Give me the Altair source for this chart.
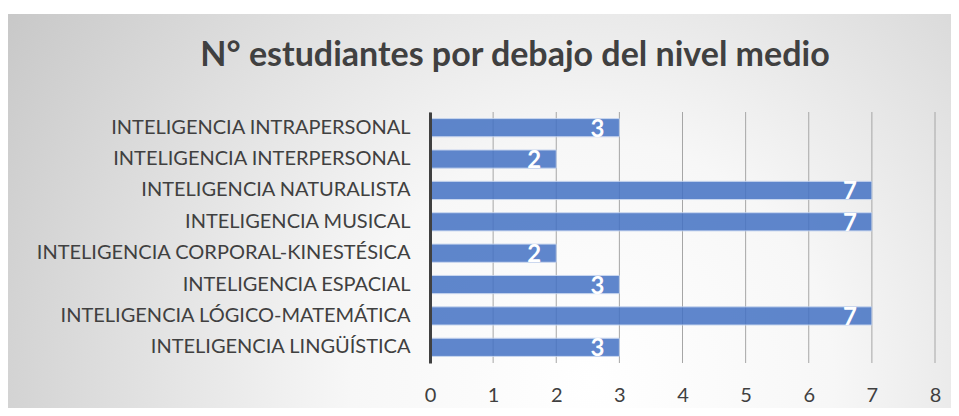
import altair as alt
import pandas as pd

categories = [
    "INTELIGENCIA INTRAPERSONAL",
    "INTELIGENCIA INTERPERSONAL",
    "INTELIGENCIA NATURALISTA",
    "INTELIGENCIA MUSICAL",
    "INTELIGENCIA CORPORAL-KINESTÉSICA",
    "INTELIGENCIA ESPACIAL",
    "INTELIGENCIA LÓGICO-MATEMÁTICA",
    "INTELIGENCIA LINGÜÍSTICA",
]
values = [3, 2, 7, 7, 2, 3, 7, 3]
x_ticks = [0, 1, 2, 3, 4, 5, 6, 7, 8]
title_text = "N° estudiantes por debajo del nivel medio"

df = pd.DataFrame({"cat": categories, "val": values})
ticks_df = pd.DataFrame({"t": x_ticks})

W, H = 505, 251
PL, PT, PR, PB = 422, 104, 16, 45
FONT = "Lato"

x_scale = alt.Scale(domain=[0, 8], nice=False)

bg = alt.Chart(pd.DataFrame({"a": [0]})).mark_rect(
    color={
        "gradient": "radial",
        "x1": 0.62, "y1": 0.68, "r1": 0,
        "x2": 0.62, "y2": 0.68, "r2": 0.85,
        "stops": [
            {"offset": 0, "color": "#ffffff"},
            {"offset": 0.3, "color": "#f7f7f7"},
            {"offset": 1, "color": "#bcbcbc"},
        ],
    }
).encode(
    x=alt.value(-PL - 3), x2=alt.value(W + PR),
    y=alt.value(-PT + 6), y2=alt.value(H + PB),
)

grid = alt.Chart(ticks_df).mark_rule(color="#a6a6a6", strokeWidth=1).encode(
    x=alt.X("t:Q", scale=x_scale),
    y=alt.value(0), y2=alt.value(H),
)

y_enc = alt.Y(
    "cat:N", sort=categories, title=None,
    scale=alt.Scale(paddingInner=0.42, paddingOuter=0.21),
    axis=alt.Axis(
        labelFont=FONT, labelFontSize=20, labelColor="#404040",
        labelPadding=20, ticks=False, domain=True,
        domainColor="#404040", domainWidth=3, labelLimit=0, zindex=2,
    ),
)
x_enc = alt.X(
    "val:Q", title=None, scale=x_scale,
    axis=alt.Axis(
        values=x_ticks, format="d", labelFont=FONT, labelFontSize=20,
        labelColor="#404040", labelPadding=22, ticks=False, domain=False,
        grid=False, zindex=2, labelFlush=False,
    ),
)

bars = alt.Chart(df).mark_bar(
    color="#4472C4", opacity=0.85, stroke="#c2d2ee", strokeWidth=1
).encode(x=x_enc, y=y_enc)

labels = alt.Chart(df).mark_text(
    align="right", baseline="middle", dx=-15, dy=2,
    font=FONT, fontSize=24, fontWeight="bold", color="white",
).encode(x=alt.X("val:Q"), y=alt.Y("cat:N", sort=categories), text="val:Q")

title = alt.Chart(pd.DataFrame({"t": [title_text]})).mark_text(
    align="center", baseline="alphabetic",
    font=FONT, fontSize=34, fontWeight="bold", color="#404040",
).encode(x=alt.value(85), y=alt.value(-46), text="t:N")

chart = alt.layer(bg, grid, bars, labels, title).properties(
    width=W, height=H,
    autosize=alt.AutoSizeParams(type="none"),
    padding={"left": PL, "top": PT, "right": PR, "bottom": PB},
    background="white",
).configure_view(stroke=None)

chart.save("out.html", embed_options={"renderer": "svg", "actions": False})
